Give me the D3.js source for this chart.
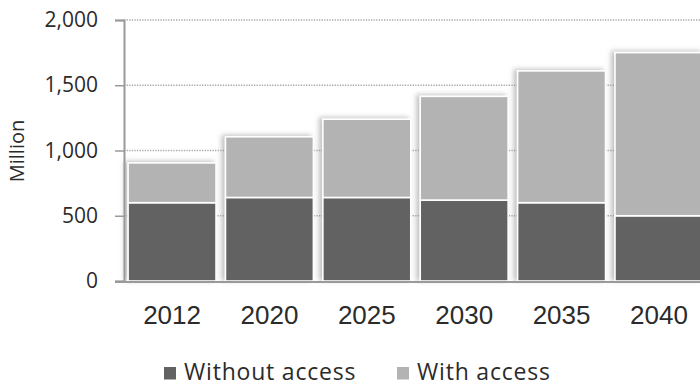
<!DOCTYPE html>
<html>
<head>
<meta charset="utf-8">
<script src="https://cdn.jsdelivr.net/npm/d3@7"></script>
<style>
  html, body { margin: 0; padding: 0; background: #fff; }
  svg { display: block; }
</style>
</head>
<body>
<svg id="chart" width="700" height="385"></svg>
<script>
// Population (million) with and without access, by year
const years = ["2012", "2020", "2025", "2030", "2035", "2040"];
const withoutAccess = [600, 640, 640, 620, 600, 500];
const withAccess = [305, 465, 600, 795, 1010, 1250];
const yTicks = [0, 500, 1000, 1500, 2000];
const seriesNames = ["Without access", "With access"];
const seriesColors = ["#626262", "#b3b3b3"];

const svg = d3.select("#chart");
const W = 700, H = 385;
const plotLeft = 124, plotRight = 707, plotTop = 20, plotBottom = 281;

const x = d3.scaleBand().domain(years).range([plotLeft, plotRight])
  .paddingInner(0.097).paddingOuter(0.042);
const y = d3.scaleLinear().domain([0, 2000]).range([plotBottom, plotTop]);

const defs = svg.append("defs");
const f = defs.append("filter").attr("id", "barShadow")
  .attr("x", "-20%").attr("y", "-20%").attr("width", "140%").attr("height", "140%");
f.append("feDropShadow").attr("dx", -3).attr("dy", -1)
  .attr("stdDeviation", 2.5).attr("flood-color", "#8a8a8a").attr("flood-opacity", 0.55);

// dotted gridlines
svg.append("g").selectAll("line")
  .data(yTicks.filter(d => d > 0))
  .join("line")
  .attr("x1", plotLeft).attr("x2", W)
  .attr("y1", d => y(d)).attr("y2", d => y(d))
  .attr("stroke", "#a8a8a8").attr("stroke-width", 1.3)
  .attr("stroke-dasharray", "1.3,1.3");

// stacked bars
const stackData = years.map((yr, i) => ({ year: yr, w: withoutAccess[i], a: withAccess[i] }));
const stack = d3.stack().keys(["w", "a"])(stackData);
const barG = svg.append("g");
barG.selectAll("g.bar")
  .data(stackData)
  .join("g").attr("class", "bar")
  .attr("filter", "url(#barShadow)")
  .each(function(d, i) {
    const g = d3.select(this);
    stack.forEach((layer, k) => {
      const seg = layer[i];
      g.append("rect")
        .attr("x", x(d.year))
        .attr("width", x.bandwidth())
        .attr("y", y(seg[1]))
        .attr("height", y(seg[0]) - y(seg[1]))
        .attr("fill", seriesColors[k])
        .attr("stroke", "#fff")
        .attr("stroke-width", 1.6);
    });
  });

// y axis
const yAxis = d3.axisLeft(y).tickValues(yTicks).tickSize(9).tickPadding(17)
  .tickFormat(d3.format(","));
const yg = svg.append("g").attr("transform", `translate(${plotLeft},0)`).call(yAxis);
yg.select(".domain").attr("stroke", "#9a9a9a").attr("stroke-width", 2);
yg.selectAll(".tick line").attr("stroke", "#9a9a9a").attr("stroke-width", 1.5);
yg.selectAll(".tick text")
  .attr("fill", "#2b2b2b")
  .style("font-family", "'Open Sans', sans-serif")
  .style("font-size", "21px");

// baseline
svg.append("line")
  .attr("x1", 115).attr("x2", W)
  .attr("y1", plotBottom + 1).attr("y2", plotBottom + 1)
  .attr("stroke", "#9a9a9a").attr("stroke-width", 2);

// x axis labels
const xAxis = d3.axisBottom(x).tickSize(0).tickPadding(25);
const xg = svg.append("g").attr("transform", `translate(0,${plotBottom})`).call(xAxis);
xg.select(".domain").remove();
xg.selectAll(".tick text")
  .attr("fill", "#2b2b2b")
  .style("font-family", "'Liberation Sans Narrow', 'Liberation Sans', sans-serif")
  .style("font-size", "26px");

// y axis title
svg.append("text")
  .attr("transform", `translate(24,151) rotate(-90)`)
  .attr("text-anchor", "middle")
  .attr("fill", "#2b2b2b")
  .style("font-family", "'Open Sans', sans-serif")
  .style("font-size", "20px")
  .text("Million");

// legend
const legendX = [164, 397];
const lg = svg.append("g");
seriesNames.forEach((name, k) => {
  lg.append("rect")
    .attr("x", legendX[k]).attr("y", 367)
    .attr("width", 12).attr("height", 12.5)
    .attr("fill", seriesColors[k]);
  lg.append("text")
    .attr("x", legendX[k] + 20).attr("y", 379.5)
    .attr("fill", "#2b2b2b")
    .style("font-family", "'Open Sans', sans-serif")
    .style("font-size", "23px")
    .style("letter-spacing", "0.8px")
    .text(name);
});
</script>
</body>
</html>
